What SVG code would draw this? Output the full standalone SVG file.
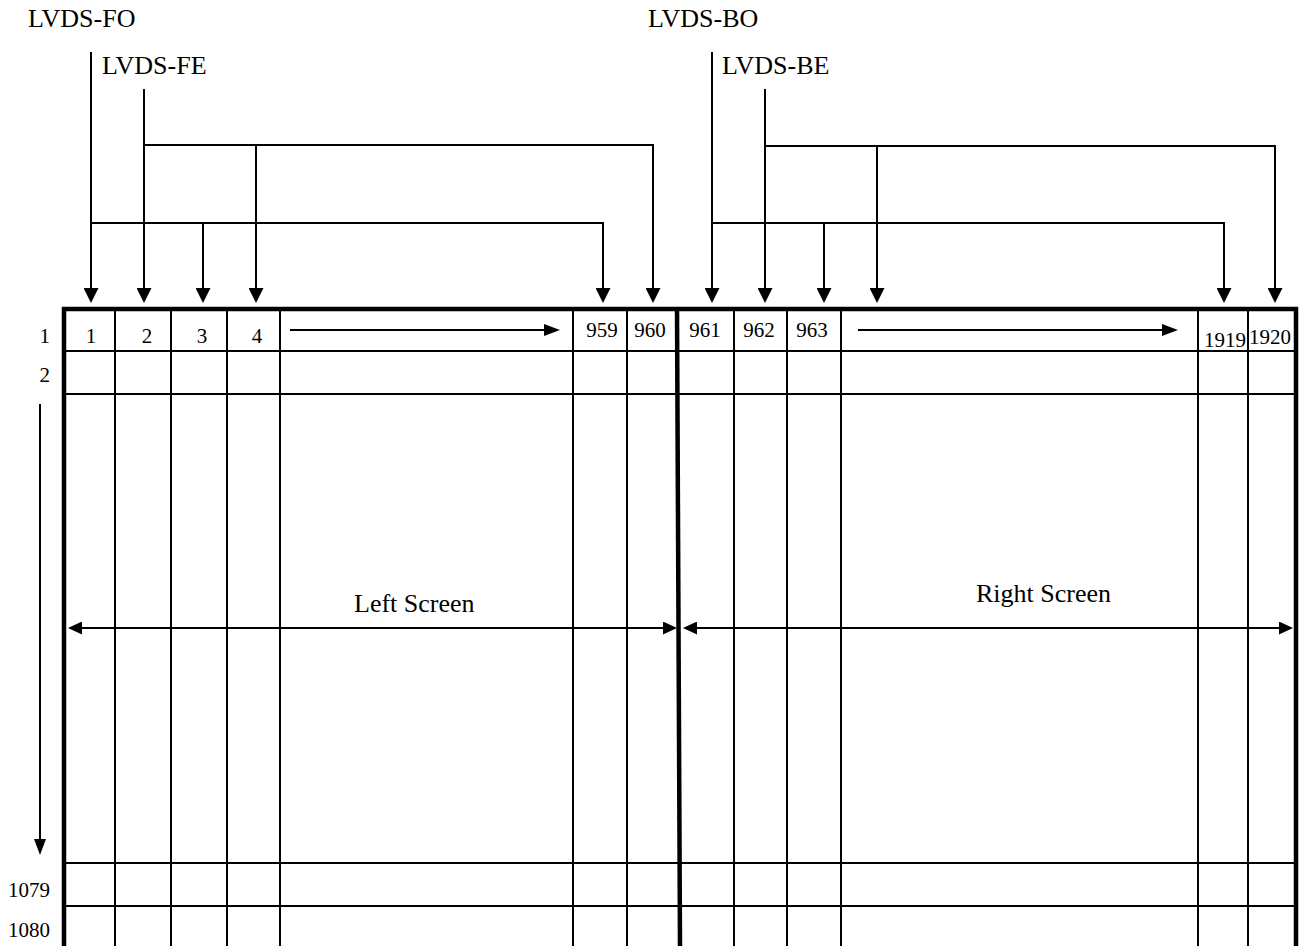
<svg xmlns="http://www.w3.org/2000/svg" width="1300" height="946" viewBox="0 0 1300 946">
<style>
text{font-family:"Liberation Serif","Times New Roman",serif;fill:#000}
.lbl{font-size:26px}
.num{font-size:21px;text-anchor:middle}
.rn{font-size:21px;text-anchor:end}
.thin{stroke:#000;stroke-width:2;fill:none}
.thick{stroke:#000;stroke-width:4.5;fill:none}
.conn{stroke:#000;stroke-width:2;fill:none;marker-end:url(#ah)}
.sarr{stroke:#000;stroke-width:2;fill:none;marker-end:url(#as)}
.darr{stroke:#000;stroke-width:2;fill:none;marker-end:url(#ad);marker-start:url(#ad)}
</style>
<defs>
<marker id="ah" markerUnits="userSpaceOnUse" markerWidth="15" markerHeight="15" viewBox="0 0 15 15" refX="0" refY="7.5" orient="auto"><path d="M0,0 L15,7.5 L0,15 z" fill="#000"/></marker>
<marker id="as" markerUnits="userSpaceOnUse" markerWidth="16" markerHeight="12" viewBox="0 0 16 12" refX="0" refY="6" orient="auto"><path d="M0,0 L16,6 L0,12 z" fill="#000"/></marker>
<marker id="ad" markerUnits="userSpaceOnUse" markerWidth="14" markerHeight="13" viewBox="0 0 14 13" refX="0" refY="6.5" orient="auto-start-reverse"><path d="M0,0 L14,6.5 L0,13 z" fill="#000"/></marker>
</defs>
<rect width="1300" height="946" fill="#fff"/>

<g id="label-lvds-fo"><text class="lbl" x="28" y="27">LVDS-FO</text></g>
<g id="label-lvds-fe"><text class="lbl" x="102" y="74">LVDS-FE</text></g>
<g id="label-lvds-bo"><text class="lbl" x="648" y="27">LVDS-BO</text></g>
<g id="label-lvds-be"><text class="lbl" x="722" y="74">LVDS-BE</text></g>

<g id="connectors">
<path class="conn" d="M91,52 V288"/>
<path class="conn" d="M91,223 H603 V288"/>
<path class="conn" d="M203,223 V288"/>
<path class="conn" d="M144,89 V288"/>
<path class="conn" d="M144,145 H653 V288"/>
<path class="conn" d="M256,145 V288"/>
<path class="conn" d="M712,52 V288"/>
<path class="conn" d="M712,223 H1224 V288"/>
<path class="conn" d="M824,223 V288"/>
<path class="conn" d="M765,89 V288"/>
<path class="conn" d="M765,146 H1275 V288"/>
<path class="conn" d="M877,146 V288"/>
</g>

<g id="grid">
<g class="thin">
<line x1="64" y1="351" x2="1296" y2="351"/>
<line x1="64" y1="394" x2="1296" y2="394"/>
<line x1="64" y1="863" x2="1296" y2="863"/>
<line x1="64" y1="906" x2="1296" y2="906"/>
<line x1="115" y1="309" x2="115" y2="946"/>
<line x1="171" y1="309" x2="171" y2="946"/>
<line x1="227" y1="309" x2="227" y2="946"/>
<line x1="280" y1="309" x2="280" y2="946"/>
<line x1="573" y1="309" x2="573" y2="946"/>
<line x1="627" y1="309" x2="627" y2="946"/>
<line x1="734" y1="309" x2="734" y2="946"/>
<line x1="787" y1="309" x2="787" y2="946"/>
<line x1="841" y1="309" x2="841" y2="946"/>
<line x1="1198" y1="309" x2="1198" y2="946"/>
<line x1="1248" y1="309" x2="1248" y2="946"/>
</g>
<g class="thick">
<line x1="62" y1="309" x2="1298" y2="309"/>
<line x1="64" y1="307" x2="64" y2="946"/>
<line x1="1296" y1="307" x2="1296" y2="946"/>
<line x1="677" y1="307" x2="680" y2="946"/>
</g>
</g>

<g id="column-numbers">
<text class="num" x="91" y="343">1</text>
<text class="num" x="147" y="343">2</text>
<text class="num" x="202" y="343">3</text>
<text class="num" x="257" y="343">4</text>
<text class="num" x="602" y="337">959</text>
<text class="num" x="650" y="337">960</text>
<text class="num" x="705" y="337">961</text>
<text class="num" x="759" y="337">962</text>
<text class="num" x="812" y="337">963</text>
<text class="num" x="1225" y="347">1919</text>
<text class="num" x="1270" y="344">1920</text>
</g>

<g id="row-numbers">
<text class="rn" x="50" y="343">1</text>
<text class="rn" x="50" y="382">2</text>
<text class="rn" x="50" y="897">1079</text>
<text class="rn" x="50" y="937">1080</text>
</g>

<g id="scan-arrows">
<path class="sarr" d="M290,330 H544"/>
<path class="sarr" d="M858,330 H1162"/>
<path class="sarr" d="M40,404 V839"/>
</g>

<g id="left-screen">
<path class="darr" d="M82,628 H663"/>
<text class="lbl" x="354" y="612">Left Screen</text>
</g>
<g id="right-screen">
<path class="darr" d="M697,628 H1279"/>
<text class="lbl" x="976" y="602">Right Screen</text>
</g>
</svg>
